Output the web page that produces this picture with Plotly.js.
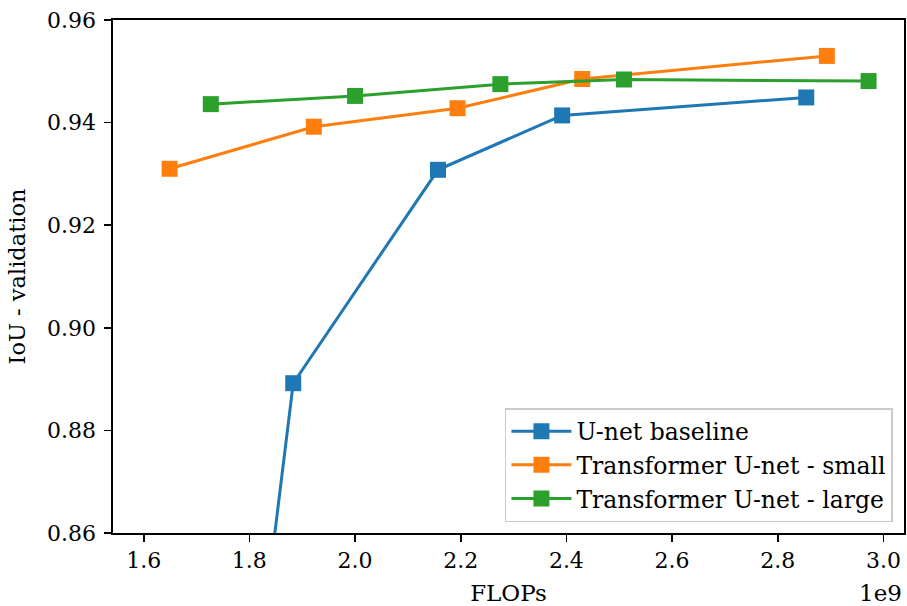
<!DOCTYPE html>
<html>
<head>
<meta charset="utf-8">
<script src="https://cdn.plot.ly/plotly-3.0.1.min.js"></script>
<style>html,body{margin:0;padding:0;background:#fff;}#chart{width:907px;height:606px;}</style>
</head>
<body>
<div id="chart"></div>
<script>
// FLOPs in units of 1e9
const unetFlops = [1.61, 1.883, 2.157, 2.392, 2.854];
const unetIoU = [0.66, 0.8892, 0.9308, 0.9414, 0.9449];
const smallFlops = [1.649, 1.922, 2.194, 2.430, 2.893];
const smallIoU = [0.9310, 0.9392, 0.9428, 0.9485, 0.9530];
const largeFlops = [1.727, 2.000, 2.275, 2.509, 2.972];
const largeIoU = [0.9436, 0.9452, 0.9475, 0.9484, 0.9481];
const seriesNames = ['U-net baseline', 'Transformer U-net - small', 'Transformer U-net - large'];
const colors = ['#1f77b4', '#ff7f0e', '#2ca02c'];
const xTicks = [1.6, 1.8, 2.0, 2.2, 2.4, 2.6, 2.8, 3.0];
const yTicks = [0.86, 0.88, 0.90, 0.92, 0.94, 0.96];

const font = 'DejaVu Serif, serif';
const xs = [unetFlops, smallFlops, largeFlops];
const ys = [unetIoU, smallIoU, largeIoU];
const traces = xs.map((x, i) => ({
  x: x, y: ys[i], name: seriesNames[i], legendgroup: 'g' + i,
  type: 'scatter', mode: 'lines+markers',
  line: {color: colors[i], width: 3},
  marker: {symbol: 'square', size: 16, color: colors[i]}
}));

const axisCommon = {
  showgrid: false, zeroline: false, showline: true, mirror: true,
  linecolor: '#000', linewidth: 1.6,
  ticks: 'outside', ticklen: 7, tickwidth: 1.6, tickcolor: '#000',
  tickfont: {family: font, size: 22, color: '#000'}
};

const layout = {
  width: 907, height: 606,
  margin: {l: 113, r: 3, t: 20, b: 73},
  paper_bgcolor: '#fff', plot_bgcolor: '#fff',
  font: {family: font, color: '#000'},
  showlegend: true,
  legend: {
    x: 0.986, y: 0.0214, xanchor: 'right', yanchor: 'bottom',
    bgcolor: 'rgba(255,255,255,0.8)', bordercolor: '#cccccc', borderwidth: 1.5,
    font: {family: font, size: 23.5, color: '#000'},
    tracegroupgap: 0, itemwidth: 60
  },
  xaxis: Object.assign({}, axisCommon, {
    range: [1.5419, 3.039], tickvals: xTicks, tickformat: '.1f',
    title: {text: 'FLOPs', font: {family: font, size: 23, color: '#000'}, standoff: 13}
  }),
  yaxis: Object.assign({}, axisCommon, {
    range: [0.86, 0.96], tickvals: yTicks, tickformat: '.2f', ticklabelstandoff: 4,
    title: {text: 'IoU - validation', font: {family: font, size: 22.5, color: '#000'}, standoff: 15}
  }),
  annotations: [{
    text: '1e9', xref: 'paper', yref: 'paper', x: 1.0, y: 0, xanchor: 'right', yanchor: 'top',
    yshift: -45, showarrow: false, font: {family: font, size: 23, color: '#000'}
  }]
};

Plotly.newPlot('chart', traces, layout, {displayModeBar: false, staticPlot: true});
</script>
</body>
</html>
